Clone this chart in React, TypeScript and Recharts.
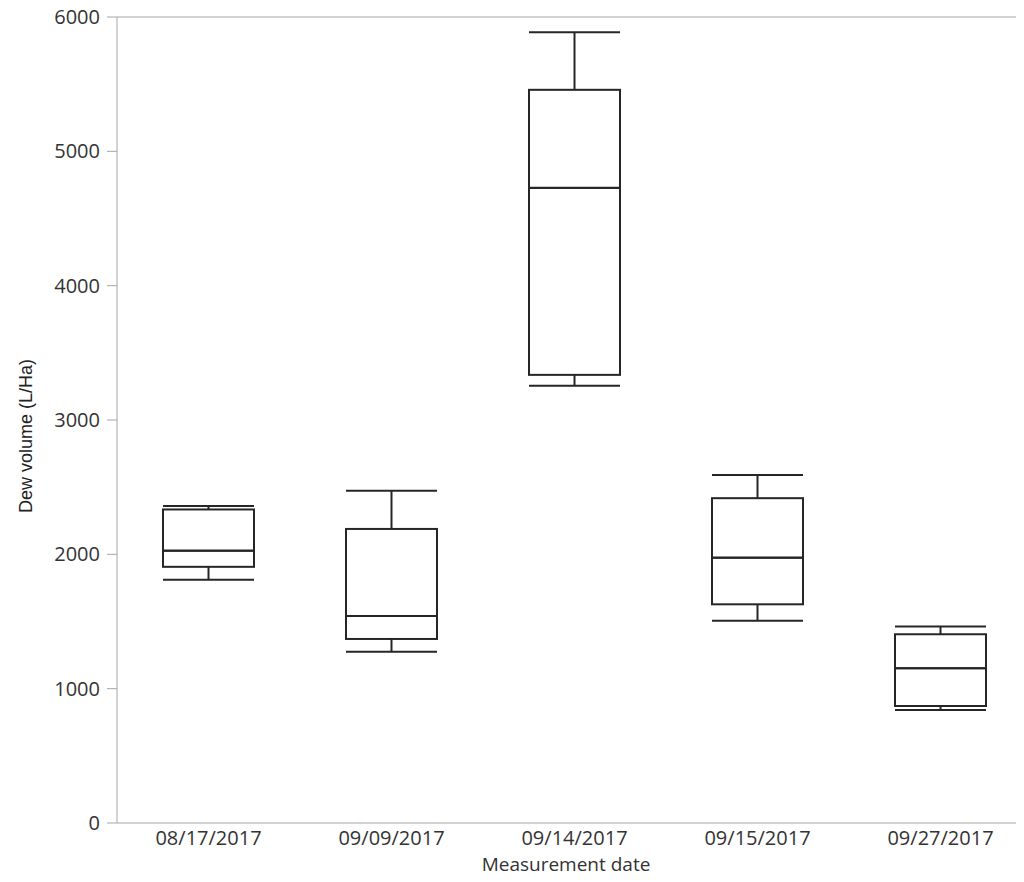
import React from 'react';
import { ComposedChart, Bar, XAxis, YAxis, ReferenceLine } from 'recharts';

const dates = ['08/17/2017', '09/09/2017', '09/14/2017', '09/15/2017', '09/27/2017'];
const whiskerLow = [1810, 1275, 3255, 1505, 842];
const quartile1 = [1907, 1370, 3336, 1628, 871];
const medians = [2027, 1541, 4728, 1975, 1152];
const quartile3 = [2334, 2189, 5458, 2418, 1405];
const whiskerHigh = [2360, 2474, 5887, 2591, 1462];
const yTicks = [0, 1000, 2000, 3000, 4000, 5000, 6000];

const data = dates.map((date, i) => ({
  date,
  base: whiskerLow[i],
  lowWhisker: quartile1[i] - whiskerLow[i],
  lowBox: medians[i] - quartile1[i],
  highBox: quartile3[i] - medians[i],
  highWhisker: whiskerHigh[i] - quartile3[i],
}));

const INK = '#262626';
const AXIS = '#a6a6a6';

const LowWhisker = (props: any) => {
  const { x, y, width, height } = props;
  const cx = x + width / 2;
  return (
    <g stroke={INK} strokeWidth={2}>
      <line x1={cx} x2={cx} y1={y} y2={y + height} />
      <line x1={x} x2={x + width} y1={y + height} y2={y + height} />
    </g>
  );
};

const HighWhisker = (props: any) => {
  const { x, y, width, height } = props;
  const cx = x + width / 2;
  return (
    <g stroke={INK} strokeWidth={2}>
      <line x1={cx} x2={cx} y1={y} y2={y + height} />
      <line x1={x} x2={x + width} y1={y} y2={y} />
    </g>
  );
};

const BoxHalf = (props: any) => {
  const { x, y, width, height } = props;
  return <rect x={x} y={y} width={width} height={height} fill="none" stroke={INK} strokeWidth={2} />;
};

const Empty = () => <g />;

const App: React.FC = () => {
  return (
    <div style={{ width: 1016, overflow: 'hidden', marginTop: -4, marginBottom: -8 }}>
      <ComposedChart
        width={1024}
        height={878}
        data={data}
        margin={{ top: 13, right: 0, left: 0, bottom: 19 }}
      >
        <XAxis
          dataKey="date"
          height={40}
          tickLine={false}
          axisLine={{ stroke: AXIS }}
          tick={{ fill: '#333', fontSize: 20, fontFamily: 'Open Sans' }}
          label={{
            content: () => (
              <text x={558} y={867} textAnchor="middle" fill="#333" fontSize={19} fontFamily="Open Sans">
                Measurement date
              </text>
            ),
          }}
        />
        <YAxis
          width={109}
          domain={[0, 6000]}
          ticks={yTicks}
          interval={0}
          tickSize={10}
          tickMargin={7}
          tickLine={{ stroke: AXIS }}
          axisLine={{ stroke: AXIS }}
          tick={{ fill: '#333', fontSize: 20, fontFamily: 'Open Sans' }}
          label={{
            content: () => (
              <text
                x={18}
                y={432}
                transform="rotate(-90, 18, 432)"
                textAnchor="middle"
                dominantBaseline="central"
                fill="#222"
                fontSize={18}
                fontFamily="Liberation Sans"
              >
                Dew volume (L/Ha)
              </text>
            ),
          }}
        />
        <ReferenceLine y={6000} stroke={AXIS} />

        {/* box plot built from stacked segments */}
        <Bar dataKey="base" stackId="box" barSize={91} shape={<Empty />} isAnimationActive={false} />
        <Bar dataKey="lowWhisker" stackId="box" barSize={91} shape={<LowWhisker />} isAnimationActive={false} />
        <Bar dataKey="lowBox" stackId="box" barSize={91} shape={<BoxHalf />} isAnimationActive={false} />
        <Bar dataKey="highBox" stackId="box" barSize={91} shape={<BoxHalf />} isAnimationActive={false} />
        <Bar dataKey="highWhisker" stackId="box" barSize={91} shape={<HighWhisker />} isAnimationActive={false} />
      </ComposedChart>
    </div>
  );
};

export default App;
